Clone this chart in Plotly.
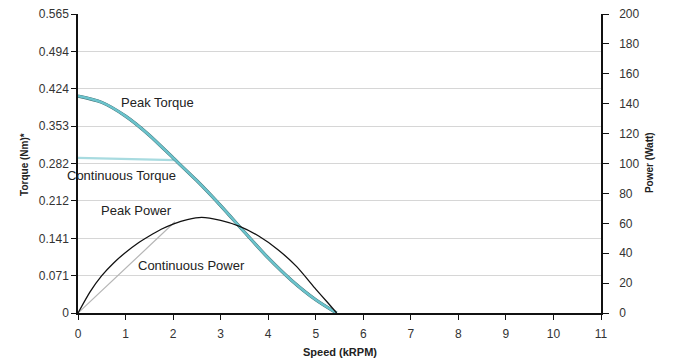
import plotly.graph_objects as go

# Speed in kRPM
peak_torque_speed = [0, 0.5, 1.0, 1.5, 2.0, 2.5, 3.0, 3.5, 4.0, 4.5, 5.0, 5.44]
peak_torque = [0.410, 0.398, 0.372, 0.336, 0.293, 0.250, 0.203, 0.153, 0.104, 0.061, 0.025, 0.0]

cont_torque_speed = [0, 2.04]
cont_torque = [0.293, 0.289]

peak_power_speed = [0, 0.25, 0.5, 0.75, 1.0, 1.25, 1.5, 1.75, 2.0, 2.3, 2.6, 3.0,
                    3.4, 3.8, 4.2, 4.6, 5.0, 5.25, 5.44]
peak_power = [0, 14.0, 25.0, 33.5, 40.5, 46.5, 51.5, 56.0, 59.5, 62.5, 64.0, 62.0,
              58.0, 51.5, 42.5, 31.0, 16.0, 7.0, 0]

cont_power_speed = [0, 2.04]
cont_power = [0, 61.0]

torque_ticks = [0, 0.071, 0.141, 0.212, 0.282, 0.353, 0.424, 0.494, 0.565]
torque_tick_text = ["0", "0.071", "0.141", "0.212", "0.282", "0.353", "0.424", "0.494", "0.565"]
power_ticks = [0, 20, 40, 60, 80, 100, 120, 140, 160, 180, 200]
speed_ticks = list(range(0, 12))

FONT = "Liberation Sans, Arial, sans-serif"

fig = go.Figure()

# power curves on the right axis
fig.add_trace(go.Scatter(x=cont_power_speed, y=cont_power, mode="lines", yaxis="y2",
                         line=dict(color="#b5b5b5", width=1.2)))
fig.add_trace(go.Scatter(x=peak_power_speed, y=peak_power, mode="lines", yaxis="y2",
                         line=dict(color="#111111", width=1.3, shape="spline", smoothing=0.6)))

# torque curves on the left axis
fig.add_trace(go.Scatter(x=cont_torque_speed, y=cont_torque, mode="lines",
                         line=dict(color="#a8dbe0", width=2.2)))
fig.add_trace(go.Scatter(x=peak_torque_speed, y=peak_torque, mode="lines",
                         line=dict(color="#3b6568", width=3.2, shape="spline", smoothing=0.8)))
fig.add_trace(go.Scatter(x=peak_torque_speed, y=peak_torque, mode="lines",
                         line=dict(color="#6bc3cc", width=2.5, shape="spline", smoothing=0.8)))

labels = [
    ("Peak Torque", 1.68, 0.397),
    ("Continuous Torque", 0.92, 0.259),
    ("Peak Power", 1.22, 0.193),
    ("Continuous Power", 2.39, 0.089),
]
for text, xv, yv in labels:
    fig.add_annotation(x=xv, y=yv, xref="x", yref="y", text=text, showarrow=False,
                       font=dict(family=FONT, size=13, color="#222222"))

# axis titles
title_font = dict(family=FONT, size=10, color="#222222")
fig.add_annotation(x=0, y=0.497, xref="paper", yref="paper", xshift=-61, textangle=-90,
                   text="<b>Torque (Nm)*</b>", showarrow=False, font=title_font)
fig.add_annotation(x=1, y=0.503, xref="paper", yref="paper", xshift=56, textangle=-90,
                   text="<b>Power (Watt)</b>", showarrow=False, font=title_font)
fig.add_annotation(x=0.5, y=0, xref="paper", yref="paper", yshift=-39, yanchor="middle",
                   text="<b>Speed (kRPM)</b>", showarrow=False,
                   font=dict(family=FONT, size=11, color="#222222"))

fig.update_layout(
    width=676, height=362,
    margin=dict(l=78, r=75, t=14, b=49, autoexpand=False),
    paper_bgcolor="white", plot_bgcolor="white",
    showlegend=False, hovermode=False,
    font=dict(family=FONT, size=12, color="#333333"),
    xaxis=dict(range=[0, 11], tickvals=speed_ticks, showgrid=False, zeroline=False,
               showline=True, linecolor="#111111", linewidth=1.5, automargin=False,
               ticks="outside", ticklen=5, tickcolor="#111111", ticklabelstandoff=4,
               tickfont=dict(size=12, color="#333333")),
    yaxis=dict(range=[0, 0.565], tickvals=torque_ticks, ticktext=torque_tick_text,
               showgrid=True, gridcolor="#d6d6d6", gridwidth=1, zeroline=False,
               showline=True, linecolor="#111111", linewidth=1.5, automargin=False,
               ticks="outside", ticklen=5, tickcolor="#111111",
               tickfont=dict(size=12, color="#333333")),
    yaxis2=dict(range=[0, 200], tickvals=power_ticks, overlaying="y", side="right",
                showgrid=False, zeroline=False, automargin=False,
                showline=True, linecolor="#111111", linewidth=1.5,
                ticks="outside", ticklen=6, tickcolor="#111111", ticklabelstandoff=8,
                tickfont=dict(size=12, color="#333333")),
)

fig.write_html("out.html")
